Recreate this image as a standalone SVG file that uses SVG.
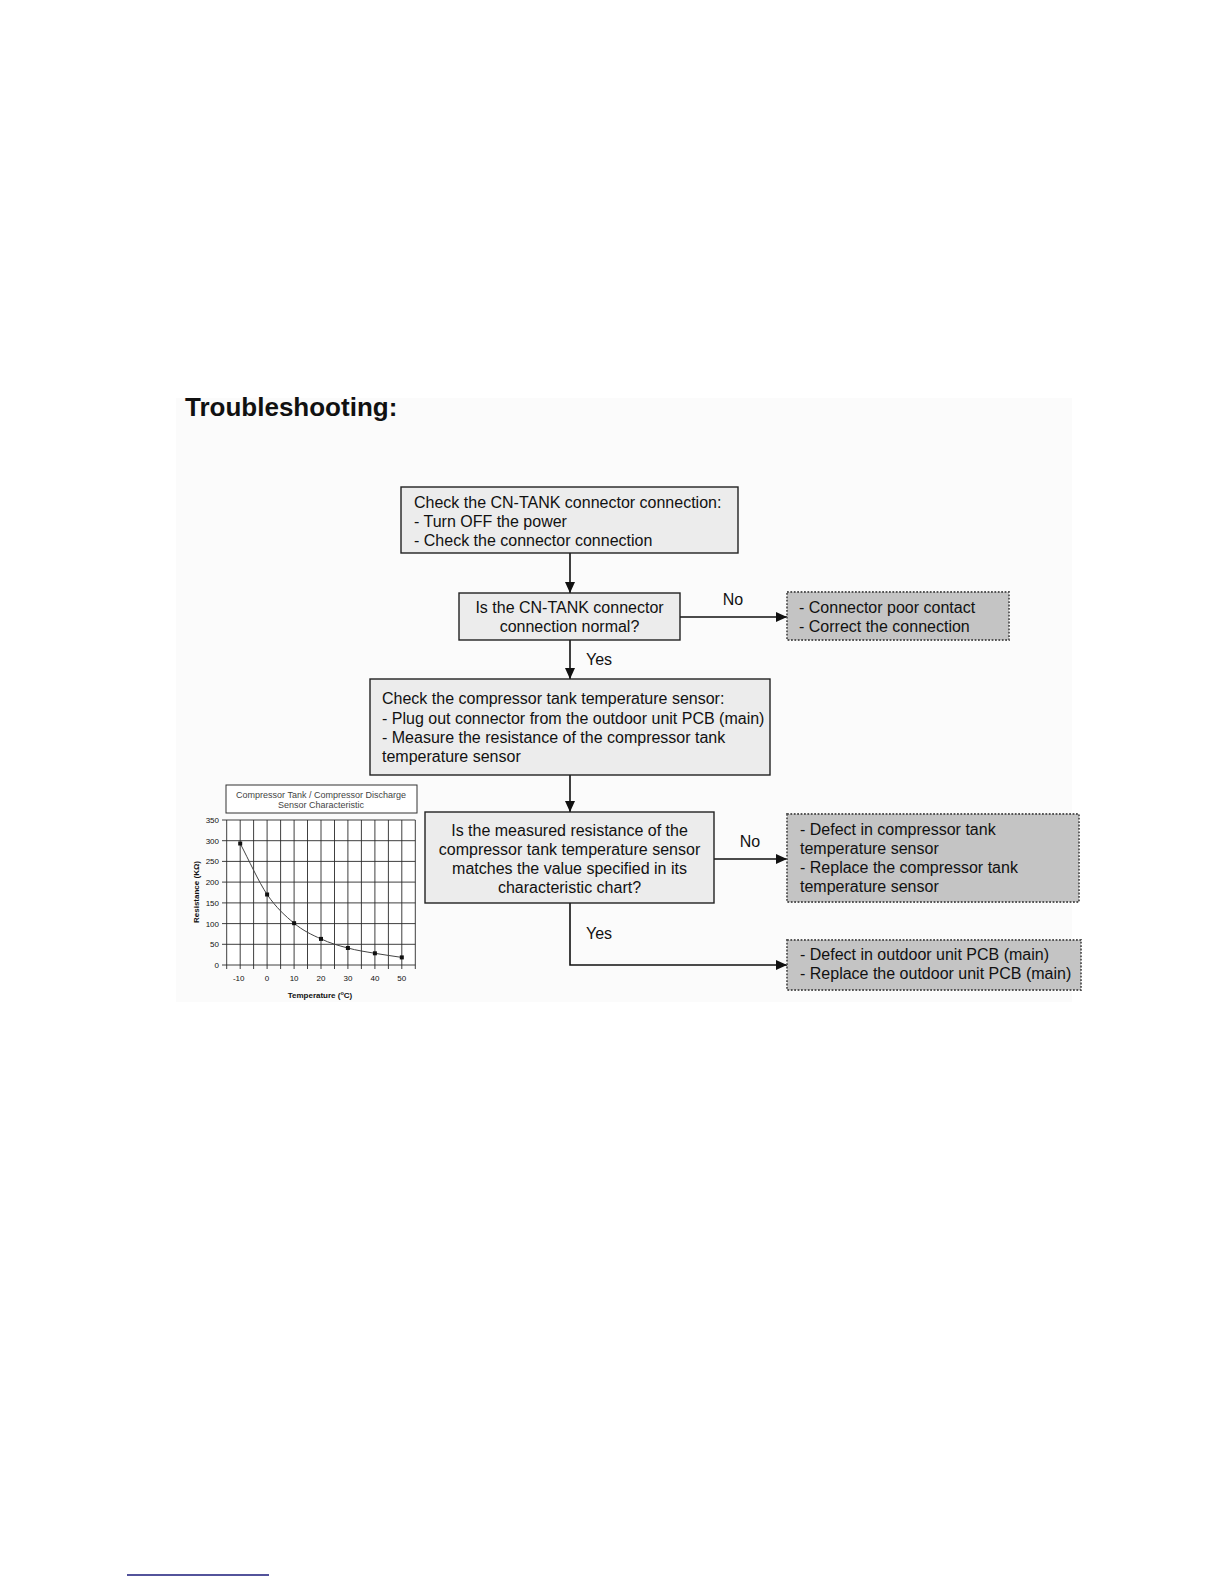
<svg xmlns="http://www.w3.org/2000/svg" width="1224" height="1584" viewBox="0 0 1224 1584">
<defs>
<style>
text{font-family:"Liberation Sans",Arial,sans-serif;fill:#111}
.t{font-size:16px}
.c{text-anchor:middle}
.box{fill:#ececec;stroke:#222;stroke-width:1.4}
.res{fill:#c4c4c4;stroke:#555;stroke-width:1.8;stroke-dasharray:1.8 1.6}
.con{fill:none;stroke:#111;stroke-width:1.6}
.grid{stroke:#2a2a2a;stroke-width:0.9}
.ax{font-size:8px;fill:#333}
</style>
<marker id="ah" markerUnits="userSpaceOnUse" markerWidth="11" markerHeight="10" refX="11" refY="5" orient="auto">
<path d="M0,0 L11,5 L0,10 z" fill="#111"/>
</marker>
</defs>
<rect x="0" y="0" width="1224" height="1584" fill="#ffffff"/>
<rect x="176" y="398" width="896" height="604" fill="#fbfbfb"/>
<text x="185" y="416" style="font-size:26px;font-weight:bold">Troubleshooting:</text>

<g id="connectors">
<line class="con" x1="570" y1="553" x2="570" y2="593" marker-end="url(#ah)"/>
<line class="con" x1="680" y1="617" x2="787" y2="617" marker-end="url(#ah)"/>
<line class="con" x1="570" y1="640" x2="570" y2="679" marker-end="url(#ah)"/>
<line class="con" x1="570" y1="775" x2="570" y2="812" marker-end="url(#ah)"/>
<line class="con" x1="714" y1="859" x2="787" y2="859" marker-end="url(#ah)"/>
<path class="con" d="M570,903 L570,965 L787,965" marker-end="url(#ah)"/>
<text class="t c" x="733" y="605">No</text>
<text class="t" x="586" y="665">Yes</text>
<text class="t c" x="750" y="847">No</text>
<text class="t" x="586" y="939">Yes</text>
</g>

<g id="n1">
<rect class="box" x="401" y="487" width="337" height="66"/>
<text class="t" x="414" y="508">Check the CN-TANK connector connection:</text>
<text class="t" x="414" y="527">- Turn OFF the power</text>
<text class="t" x="414" y="546">- Check the connector connection</text>
</g>

<g id="n2">
<rect class="box" x="459" y="593" width="221" height="47"/>
<text class="t c" x="569.5" y="613">Is the CN-TANK connector</text>
<text class="t c" x="569.5" y="632">connection normal?</text>
</g>

<g id="n3">
<rect class="res" x="787" y="592" width="222" height="48"/>
<text class="t" x="799" y="613">- Connector poor contact</text>
<text class="t" x="799" y="632">- Correct the connection</text>
</g>

<g id="n4">
<rect class="box" x="370" y="679" width="400" height="96"/>
<text class="t" x="382" y="704">Check the compressor tank temperature sensor:</text>
<text class="t" x="382" y="723.5">- Plug out connector from the outdoor unit PCB (main)</text>
<text class="t" x="382" y="743">- Measure the resistance of the compressor tank</text>
<text class="t" x="382" y="762">temperature sensor</text>
</g>

<g id="n5">
<rect class="box" x="425" y="812" width="289" height="91"/>
<text class="t c" x="569.5" y="836">Is the measured resistance of the</text>
<text class="t c" x="569.5" y="855">compressor tank temperature sensor</text>
<text class="t c" x="569.5" y="874">matches the value specified in its</text>
<text class="t c" x="569.5" y="893">characteristic chart?</text>
</g>

<g id="n6">
<rect class="res" x="787" y="814" width="292" height="88"/>
<text class="t" x="800" y="835">- Defect in compressor tank</text>
<text class="t" x="800" y="854">temperature sensor</text>
<text class="t" x="800" y="873">- Replace the compressor tank</text>
<text class="t" x="800" y="892">temperature sensor</text>
</g>

<g id="n7">
<rect class="res" x="787" y="940" width="294" height="50"/>
<text class="t" x="800" y="960">- Defect in outdoor unit PCB (main)</text>
<text class="t" x="800" y="979">- Replace the outdoor unit PCB (main)</text>
</g>

<g id="chart">
<rect x="226" y="785" width="191" height="28" fill="#fff" stroke="#333" stroke-width="1"/>
<text x="321" y="797.5" class="c" style="font-size:9px;fill:#444">Compressor Tank / Compressor Discharge</text>
<text x="321" y="808" class="c" style="font-size:9px;fill:#444">Sensor Characteristic</text>
<rect x="226.7" y="820" width="188.6" height="145" fill="#fff"/>
<g class="grid">
<line x1="222" y1="965" x2="415.3" y2="965"/>
<line x1="222" y1="944.3" x2="415.3" y2="944.3"/>
<line x1="222" y1="923.6" x2="415.3" y2="923.6"/>
<line x1="222" y1="902.9" x2="415.3" y2="902.9"/>
<line x1="222" y1="882.1" x2="415.3" y2="882.1"/>
<line x1="222" y1="861.4" x2="415.3" y2="861.4"/>
<line x1="222" y1="840.7" x2="415.3" y2="840.7"/>
<line x1="222" y1="820" x2="415.3" y2="820"/>
<line x1="226.7" y1="820" x2="226.7" y2="969"/>
<line x1="240.2" y1="820" x2="240.2" y2="969"/>
<line x1="253.6" y1="820" x2="253.6" y2="969"/>
<line x1="267.1" y1="820" x2="267.1" y2="969"/>
<line x1="280.6" y1="820" x2="280.6" y2="969"/>
<line x1="294.1" y1="820" x2="294.1" y2="969"/>
<line x1="307.5" y1="820" x2="307.5" y2="969"/>
<line x1="321.0" y1="820" x2="321.0" y2="969"/>
<line x1="334.5" y1="820" x2="334.5" y2="969"/>
<line x1="347.9" y1="820" x2="347.9" y2="969"/>
<line x1="361.4" y1="820" x2="361.4" y2="969"/>
<line x1="374.9" y1="820" x2="374.9" y2="969"/>
<line x1="388.4" y1="820" x2="388.4" y2="969"/>
<line x1="401.8" y1="820" x2="401.8" y2="969"/>
<line x1="415.3" y1="820" x2="415.3" y2="969"/>
</g>
<g class="ax" text-anchor="end">
<text x="219" y="968">0</text>
<text x="219" y="947.3">50</text>
<text x="219" y="926.6">100</text>
<text x="219" y="905.9">150</text>
<text x="219" y="885.1">200</text>
<text x="219" y="864.4">250</text>
<text x="219" y="843.7">300</text>
<text x="219" y="823">350</text>
</g>
<g class="ax" text-anchor="middle">
<text x="238.7" y="981">-10</text>
<text x="267.1" y="981">0</text>
<text x="294.1" y="981">10</text>
<text x="321.0" y="981">20</text>
<text x="347.9" y="981">30</text>
<text x="374.9" y="981">40</text>
<text x="401.8" y="981">50</text>
</g>
<text x="320" y="998" class="c" style="font-size:8px;font-weight:bold">Temperature (<tspan dy="-3" style="font-size:5.5px">o</tspan><tspan dy="3">C)</tspan></text>
<text x="0" y="0" class="c" transform="translate(199,892) rotate(-90)" style="font-size:8px;font-weight:bold">Resistance (KΩ)</text>
<path d="M240.2,843.5 C249.1,860.5 258.3,881.2 267.1,894.5 C276.3,907.8 285.1,915.8 294.1,923.2 C302.9,930.6 311.8,934.8 321,938.9 C329.6,943 338.3,945.6 347.9,948 C356.3,950.4 365.6,951.7 374.9,953.3 C383.8,954.9 392.9,956 401.8,957.4" fill="none" stroke="#444" stroke-width="1"/>
<g fill="#111">
<rect x="238.2" y="841.5" width="4" height="4"/>
<rect x="265.1" y="892.5" width="4" height="4"/>
<rect x="292.1" y="921.2" width="4" height="4"/>
<rect x="319" y="936.9" width="4" height="4"/>
<rect x="345.9" y="946" width="4" height="4"/>
<rect x="372.9" y="951.3" width="4" height="4"/>
<rect x="399.8" y="955.4" width="4" height="4"/>
</g>
</g>

<line x1="127" y1="1575" x2="269" y2="1575" stroke="#1a1a7a" stroke-width="1.5"/>
</svg>
